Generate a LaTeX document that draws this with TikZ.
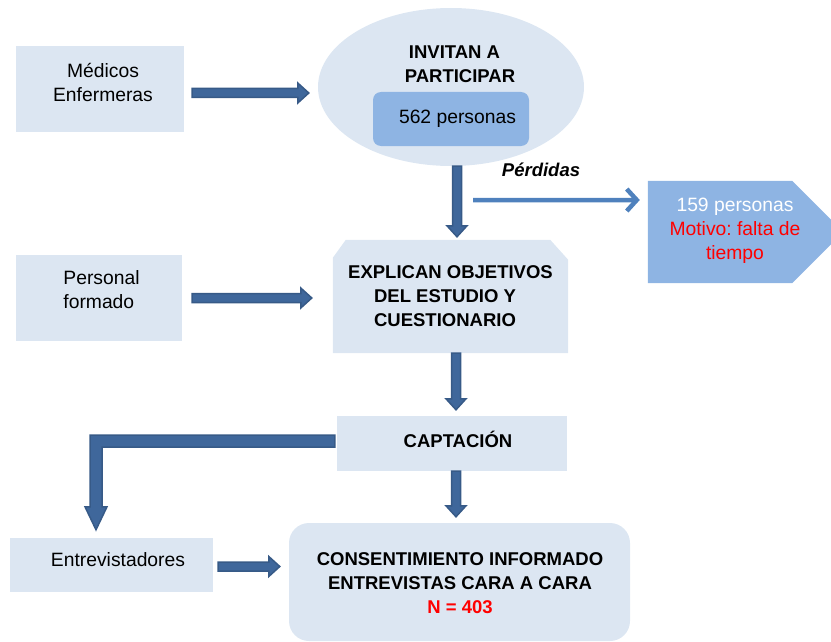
\documentclass[tikz,border=0pt]{standalone}
\usepackage{fontspec}
\setmainfont{Liberation Sans}
\usetikzlibrary{shapes.geometric,calc,arrows.meta}
\definecolor{light}{HTML}{DCE6F2}
\definecolor{mid}{HTML}{8EB4E3}
\definecolor{arrin}{HTML}{3F679B}
\definecolor{arrout}{HTML}{375A87}
\definecolor{thinarr}{HTML}{4F81BD}
\definecolor{redtxt}{HTML}{FF0000}
\frenchspacing
\newcommand\hblk[2]{\path[blk] let \p1=#1, \p2=#2 in
  (\x1,\y1+4.5pt) -- (\x2-11pt,\y1+4.5pt) -- (\x2-11pt,\y1+10pt) -- (\x2,\y1)
  -- (\x2-11pt,\y1-10pt) -- (\x2-11pt,\y1-4.5pt) -- (\x1,\y1-4.5pt) -- cycle;}
\newcommand\vblk[2]{\path[blk] let \p1=#1, \p2=#2 in
  (\x1-4.5pt,\y1) -- (\x1-4.5pt,\y2+11pt) -- (\x1-10pt,\y2+11pt) -- (\x1,\y2)
  -- (\x1+10pt,\y2+11pt) -- (\x1+4.5pt,\y2+11pt) -- (\x1+4.5pt,\y1) -- cycle;}
\begin{document}
\begin{tikzpicture}[x=1pt,y=-1pt,
  box/.style={fill=light, draw=none, inner sep=0pt},
  txt/.style={align=center, inner sep=0pt, font=\fontsize{19.3}{24}\selectfont},
  btxt/.style={align=center, inner sep=0pt, font=\fontsize{18.5}{24}\selectfont\bfseries},
  blk/.style={fill=arrin, draw=arrout, line width=1.5pt, line join=miter}]
\useasboundingbox (0,0) rectangle (831,642);
\clip (0,0) rectangle (831,642);

% Medicos
\node[box, minimum width=168, minimum height=86] (med) at (100,89) {};
\node[txt] (medt) at (103,82) {Médicos\\Enfermeras};

% Invitan
\node[box, ellipse, minimum width=266, minimum height=158] (inv) at (451,87) {};
\node[btxt] (invt) at (460,64) {INVITAN A\makebox[11pt]{}\\PARTICIPAR};
\node[fill=mid, rounded corners=8pt, minimum width=156, minimum height=54, txt] (n562) at (451,119) {\makebox[13pt]{}562 personas};

% Perdidas
\node[inner sep=0pt, font=\fontsize{18.5}{22}\selectfont\bfseries\itshape] (perd) at (541,170) {Pérdidas};

% loss box
\node[inner sep=0pt, minimum width=144, minimum height=102] (loss) at (720,232) {};
\fill[mid] (loss.north west) -- (loss.north east) -- ($(loss.east)+(51,0)$) -- (loss.south east) -- (loss.south west) -- cycle;
\node[txt] (losst) at (735,231) {\textcolor{white}{159 personas}\\\textcolor{redtxt}{Motivo: falta de}\\\textcolor{redtxt}{tiempo}};

% Personal
\node[box, minimum width=166, minimum height=86] (pers) at (99,298) {};
\node[txt, align=left] (perst) at (101.5,290) {Personal\\formado};

% Explican
\node[inner sep=0pt, minimum width=235, minimum height=113] (expl) at (450.5,296.5) {};
\fill[light] (expl.south west) -- ($(expl.north west)+(0,18)$) -- ($(expl.north west)+(13,0)$) -- ($(expl.north east)+(-18,0)$) -- ($(expl.north east)+(0,20)$) -- (expl.south east) -- cycle;
\node[btxt] (explt) at (450.5,296) {EXPLICAN OBJETIVOS\\DEL ESTUDIO Y\makebox[11pt]{}\\CUESTIONARIO\makebox[11pt]{}};

% Captacion
\node[box, minimum width=230, minimum height=55] (capt) at (452,443.5) {};
\node[btxt] (captt) at (458,439) {CAPTACIÓN};

% Entrevistadores
\node[box, minimum width=203, minimum height=54] (entr) at (111.5,565) {};
\node[txt] (entrt) at (118,560) {Entrevistadores};

% Consentimiento
\node[box, rounded corners=20pt, minimum width=341, minimum height=118] (cons) at (459.5,582) {};
\node[btxt] (const) at (460,583.5) {CONSENTIMIENTO INFORMADO\\ENTREVISTAS CARA A CARA\\\textcolor{redtxt}{N = 403}};

% block arrows
\hblk{($(med.east)+(8,4)$)}{($(inv.west)+(-9,0)$)}
\hblk{($(pers.east)+(10,0)$)}{($(expl.west)+(-21,0)$)}
\hblk{($(entr.east)+(5,1.5)$)}{($(cons.west)+(-9,0)$)}
\vblk{($(inv.south)+(6,0)$)}{($(expl.north)+(6,-3)$)}
\vblk{($(expl.south)+(5.5,0)$)}{($(capt.north)+(4,-6)$)}
\vblk{($(capt.south)+(4,0)$)}{($(cons.north)+(-3,-6)$)}

% L arrow
\path[blk] let \p1=($(capt.west)+(-2,-2.5)$), \p2=($(entr.north)+(-15.5,-8)$) in
  (\x1,\y1+6pt) -- (\x2-6pt,\y1+6pt) -- (\x2-6pt,\y2+23pt) -- (\x2-11pt,\y2+23pt)
  -- (\x2,\y2) -- (\x2+11pt,\y2+23pt) -- (\x2+6pt,\y2+23pt) -- (\x2+6pt,\y1-6pt)
  -- (\x1,\y1-6pt) -- cycle;

% thin arrow
\draw[thinarr, line width=4.5pt, -{Straight Barb[length=10pt,width=22pt]}] ($(inv.south)+(22,34)$) -- ($(loss.west)+(-8,-32)$);
\end{tikzpicture}
\end{document}
